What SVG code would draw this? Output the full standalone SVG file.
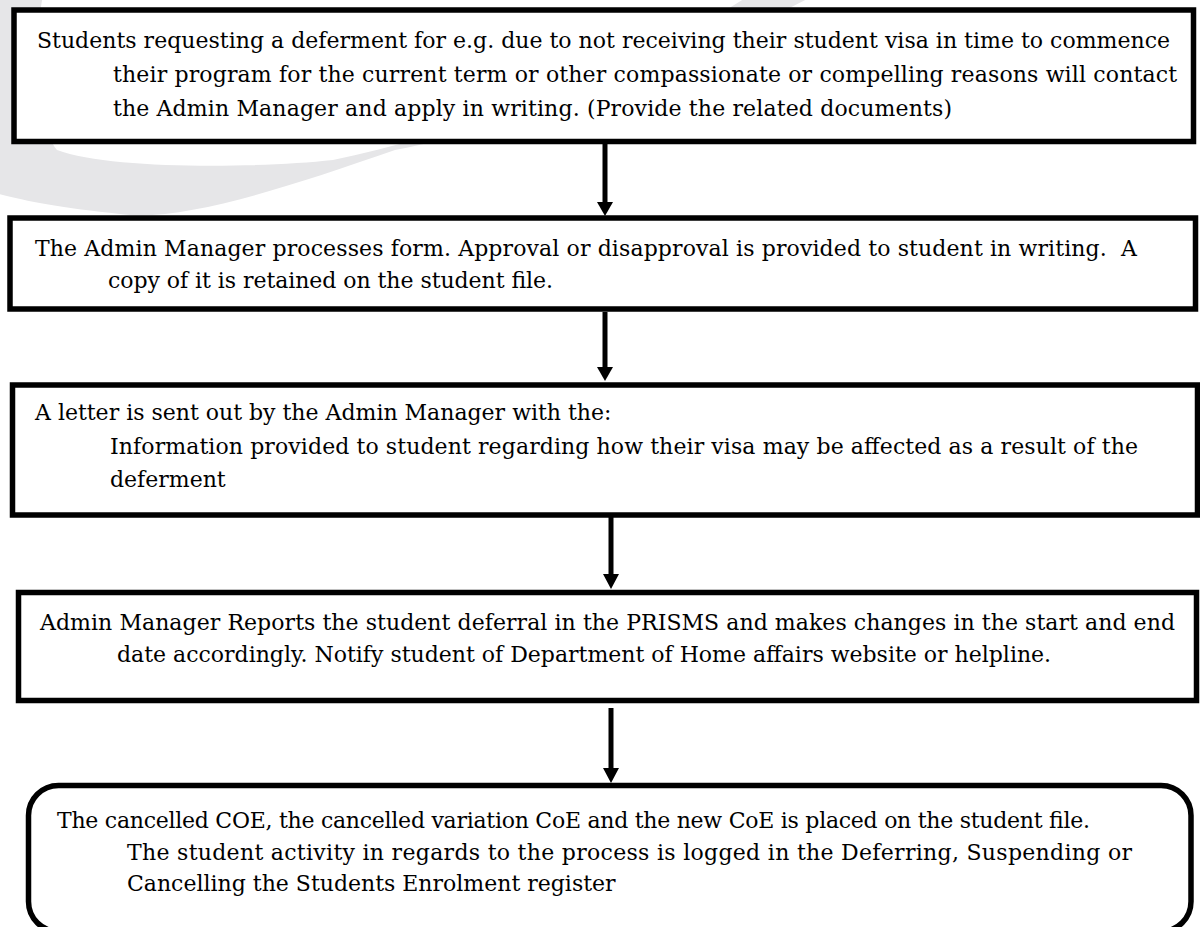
<svg xmlns="http://www.w3.org/2000/svg" width="1200" height="927" viewBox="0 0 1200 927">
<defs>
<style>
.bx{fill:#fff;stroke:#000;stroke-width:5.5}
.t{font-family:"DejaVu Serif","Liberation Serif",serif;font-size:22px;fill:#000}
.cn{stroke:#000;stroke-width:5;fill:none}
.ah{fill:#000}
</style>
</defs>
<rect width="1200" height="927" fill="#fff"/>
<path id="watermark" fill="#e6e6e8" fill-rule="evenodd" d="M 815 -5 C 650 80 500 130 395 150 C 280 190 180 222 120 214 C 60 208 20 200 -5 193 L -5 -5 L 43 -5 C 30 60 40 130 57 150 C 110 170 260 168 333 160 C 480 130 650 60 750 -5 Z"/>
<g id="connectors">
<line class="cn" x1="605" y1="144" x2="605" y2="204"/>
<polygon class="ah" points="597,202 613,202 605,216"/>
<line class="cn" x1="605" y1="312" x2="605" y2="369"/>
<polygon class="ah" points="597,367 613,367 605,381"/>
<line class="cn" x1="611" y1="517" x2="611" y2="576"/>
<polygon class="ah" points="603,574 619,574 611,589"/>
<line class="cn" x1="611" y1="708" x2="611" y2="770"/>
<polygon class="ah" points="603,768 619,768 611,783"/>
</g>
<g id="node1">
<rect class="bx" x="14" y="10" width="1179.5" height="131.5"/>
<text class="t" x="37" y="48" textLength="1133">Students requesting a deferment for e.g. due to not receiving their student visa in time to commence</text>
<text class="t" x="113" y="82" textLength="1064">their program for the current term or other compassionate or compelling reasons will contact</text>
<text class="t" x="113" y="116" textLength="839">the Admin Manager and apply in writing. (Provide the related documents)</text>
</g>
<g id="node2">
<rect class="bx" x="10" y="218" width="1185.5" height="91"/>
<text class="t" x="35" y="256" textLength="1102" xml:space="preserve">The Admin Manager processes form. Approval or disapproval is provided to student in writing.  A</text>
<text class="t" x="108" y="288" textLength="445">copy of it is retained on the student file.</text>
</g>
<g id="node3">
<rect class="bx" x="12.5" y="385" width="1185" height="130"/>
<text class="t" x="35" y="420">A letter is sent out by the Admin Manager with the:</text>
<text class="t" x="110" y="454" textLength="1028">Information provided to student regarding how their visa may be affected as a result of the</text>
<text class="t" x="110" y="487">deferment</text>
</g>
<g id="node4">
<rect class="bx" x="18.5" y="592.5" width="1178" height="108"/>
<text class="t" x="40" y="630" textLength="1135">Admin Manager Reports the student deferral in the PRISMS and makes changes in the start and end</text>
<text class="t" x="117" y="662">date accordingly. Notify student of Department of Home affairs website or helpline.</text>
</g>
<g id="node5">
<rect class="bx" x="28.5" y="785.5" width="1162.5" height="146" rx="30" ry="30"/>
<text class="t" x="57" y="828" textLength="1033">The cancelled COE, the cancelled variation CoE and the new CoE is placed on the student file.</text>
<text class="t" x="127" y="860" textLength="1005">The student activity in regards to the process is logged in the Deferring, Suspending or</text>
<text class="t" x="127" y="891">Cancelling the Students Enrolment register</text>
</g>
</svg>
